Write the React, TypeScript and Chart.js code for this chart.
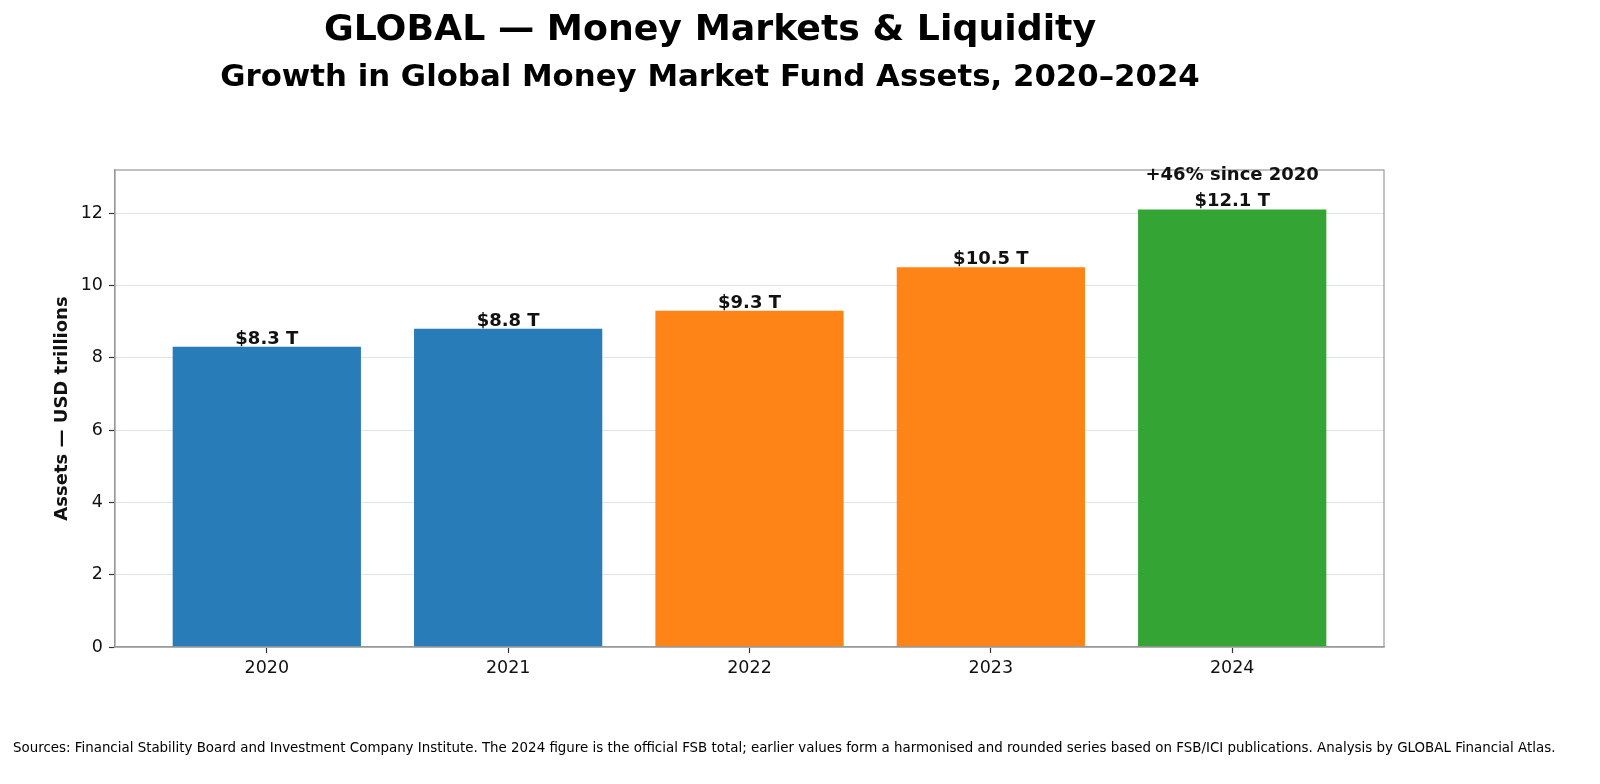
import React, { useEffect, useRef } from "react";
import { Chart, registerables } from "chart.js";

Chart.register(...registerables);

const years = ["2020", "2021", "2022", "2023", "2024"];
const assets = [8.3, 8.8, 9.3, 10.5, 12.1];
const barColors = [
  "rgba(31,119,180,0.96)",
  "rgba(31,119,180,0.96)",
  "rgba(255,127,14,0.96)",
  "rgba(255,127,14,0.96)",
  "rgba(44,160,44,0.96)",
];
const valueLabels = ["$8.3 T", "$8.8 T", "$9.3 T", "$10.5 T", "$12.1 T"];
const yTicks = [0, 2, 4, 6, 8, 10, 12];
const growthNote = "+46% since 2020";

const TITLE = "GLOBAL — Money Markets & Liquidity";
const SUBTITLE = "Growth in Global Money Market Fund Assets, 2020–2024";
const FOOTER =
  "Sources: Financial Stability Board and Investment Company Institute. The 2024 figure is the official FSB total; earlier values form a harmonised and rounded series based on FSB/ICI publications. Analysis by GLOBAL Financial Atlas.";

const FONT = "'DejaVu Sans', sans-serif";

const decorPlugin = {
  id: "decor",
  afterDatasetsDraw(chart: any) {
    const { ctx, chartArea } = chart;
    ctx.save();
    // full frame
    ctx.strokeStyle = "#999999";
    ctx.lineWidth = 1.2;
    ctx.strokeRect(
      chartArea.left,
      chartArea.top,
      chartArea.right - chartArea.left,
      chartArea.bottom - chartArea.top
    );
    // value labels
    const meta = chart.getDatasetMeta(0);
    ctx.fillStyle = "#111111";
    ctx.textAlign = "center";
    ctx.textBaseline = "alphabetic";
    ctx.font = `bold 18px ${FONT}`;
    meta.data.forEach((bar: any, i: number) => {
      ctx.fillText(valueLabels[i], bar.x, bar.y - 3);
    });
    const last = meta.data[meta.data.length - 1];
    ctx.fillText(growthNote, last.x, last.y - 29);
    // titles and footer
    ctx.fillStyle = "#000000";
    ctx.font = `bold 36.3px ${FONT}`;
    ctx.textBaseline = "middle";
    ctx.fillText(TITLE, 710, 31);
    ctx.font = `bold 30.8px ${FONT}`;
    ctx.fillText(SUBTITLE, 710, 77.5);
    ctx.font = `13.4px ${FONT}`;
    ctx.textAlign = "left";
    ctx.fillText(FOOTER, 13, 749);
    ctx.restore();
  },
};

export default function App() {
  const ref = useRef<HTMLCanvasElement | null>(null);
  useEffect(() => {
    if (!ref.current) return;
    const chart = new Chart(ref.current, {
      type: "bar",
      data: {
        datasets: [
          {
            data: assets.map((v, i) => ({ x: i, y: v })),
            backgroundColor: barColors,
            borderWidth: 0,
            barPercentage: 0.78,
            categoryPercentage: 1.0,
          },
        ],
      },
      options: {
        animation: false,
        responsive: false,
        devicePixelRatio: 1,
        layout: { padding: { left: 0, right: 216, top: 170, bottom: 0 } },
        plugins: {
          legend: { display: false },
          tooltip: { enabled: false },
        },
        scales: {
          x: {
            type: "linear",
            min: -0.629,
            max: 4.629,
            offset: false,
            afterBuildTicks: (scale: any) => {
              scale.ticks = years.map((_, i) => ({ value: i }));
            },
            afterFit: (scale: any) => {
              scale.height = 137;
            },
            ticks: {
              autoSkip: false,
              maxRotation: 0,
              padding: 5,
              color: "#111111",
              font: { family: FONT, size: 17.5 },
              callback: (v: any) => years[Math.round(Number(v))] ?? "",
            },
            grid: {
              offset: false,
              drawOnChartArea: false,
              drawTicks: true,
              tickLength: 6,
              tickColor: "#333333",
              tickWidth: 1.2,
            },
            border: { display: true, color: "#999999", width: 1.2 },
          },
          y: {
            type: "linear",
            min: 0,
            max: 13.19,
            afterBuildTicks: (scale: any) => {
              scale.ticks = yTicks.map((v) => ({ value: v }));
            },
            afterFit: (scale: any) => {
              scale.width = 115;
            },
            ticks: {
              padding: 6,
              color: "#111111",
              font: { family: FONT, size: 17.5 },
              callback: (v: any) => String(v),
            },
            grid: {
              color: "#dde6f0",
              lineWidth: 1,
              drawTicks: true,
              tickLength: 6,
              tickColor: "#333333",
              tickWidth: 1.2,
            },
            border: { display: true, color: "#999999", width: 1.2 },
            title: {
              display: true,
              text: "Assets — USD trillions",
              color: "#111111",
              font: { family: FONT, size: 18, weight: "bold" },
              padding: { top: 52, bottom: 0 },
            },
          },
        },
      },
      plugins: [decorPlugin],
    });
    return () => chart.destroy();
  }, []);
  return (
    <div style={{ position: "fixed", left: 0, top: 0, width: 1600, height: 784, background: "#ffffff" }}>
      <canvas ref={ref} width={1600} height={784} style={{ display: "block", width: 1600, height: 784 }} />
    </div>
  );
}
